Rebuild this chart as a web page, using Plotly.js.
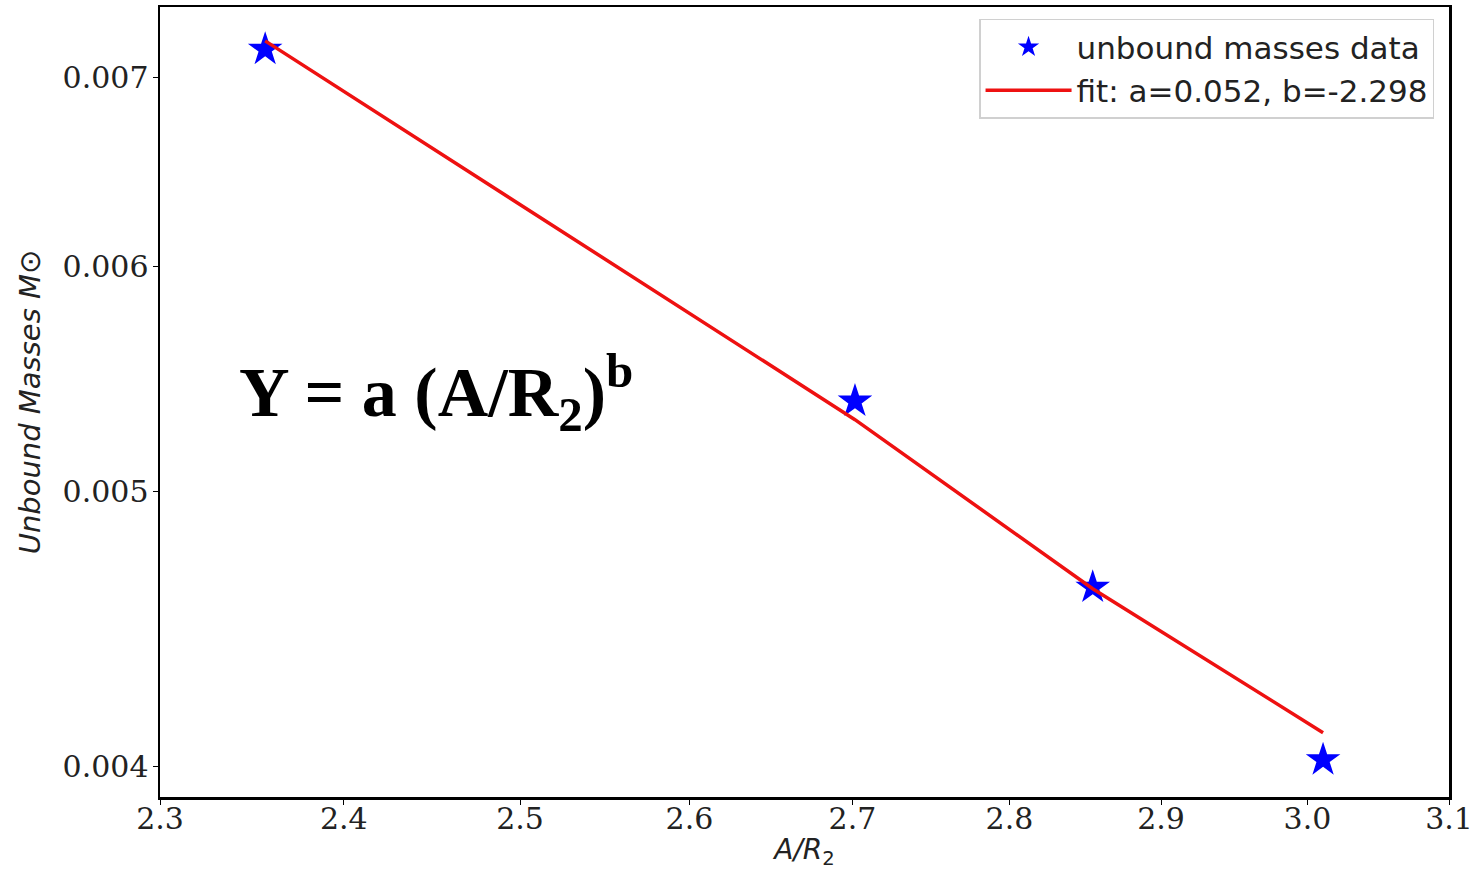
<!DOCTYPE html>
<html>
<head>
<meta charset="utf-8">
<script src="https://cdn.plot.ly/plotly-3.0.1.min.js"></script>
<style>html,body{margin:0;padding:0;background:#fff;}#chart{width:1475px;height:870px;}</style>
</head>
<body>
<div id="chart"></div>
<script>
// data
const ratioA_R2 = [2.3567, 2.7016, 2.8545, 3.0109];
const unboundMasses = [0.00716, 0.00538, 0.004625, 0.00402];
const fitX = [2.3567, 2.7016, 2.8545, 3.0109];
const fitY = [0.00721, 0.00530, 0.00462, 0.00411];
const xTickVals = [2.3, 2.4, 2.5, 2.6, 2.7, 2.8, 2.9, 3.0, 3.1];
const xTickText = ["2.3", "2.4", "2.5", "2.6", "2.7", "2.8", "2.9", "3.0", "3.1"];
const yTickVals = [0.004, 0.005, 0.006, 0.007];
const yTickText = ["0.004", "0.005", "0.006", "0.007"];

const traces = [
  {
    x: ratioA_R2, y: unboundMasses, type: 'scatter', mode: 'markers',
    name: 'unbound masses data',
    marker: {symbol: 'star', size: 26, color: '#0000ff', line: {width: 0}}
  },
  {
    x: fitX, y: fitY, type: 'scatter', mode: 'lines',
    name: 'fit: a=0.052, b=-2.298',
    line: {color: '#ee1111', width: 3.5}
  }
];

const axisCommon = {
  type: 'log', showgrid: false, zeroline: false,
  showline: true, linecolor: '#000', linewidth: 2.5, mirror: true,
  ticks: 'outside', ticklen: 5, tickwidth: 1, tickcolor: '#000',
  tickfont: {family: 'DejaVu Serif', size: 30, color: '#222'}
};

const layout = {
  width: 1475, height: 870,
  margin: {l: 160, r: 26, t: 7, b: 73},
  paper_bgcolor: '#fff', plot_bgcolor: '#fff',
  showlegend: true,
  xaxis: Object.assign({}, axisCommon, {
    range: [Math.log10(2.3), Math.log10(3.1)],
    tickmode: 'array', tickvals: xTickVals, ticktext: xTickText,
    ticklabelstandoff: -12,
    title: {text: '<i>A/R</i><sub>2</sub>', font: {family: 'DejaVu Sans', size: 28, color: '#222'}, standoff: 8}
  }),
  yaxis: Object.assign({}, axisCommon, {
    range: [Math.log10(0.0039007), Math.log10(0.007411)],
    tickmode: 'array', tickvals: yTickVals, ticktext: yTickText,
    ticklabelstandoff: -2,
    title: {text: 'Unbound Masses M⊙', font: {family: 'DejaVu Sans', size: 29, color: '#222', style: 'italic'}, standoff: 14}
  }),
  legend: {
    x: 0.9884, xanchor: 'right', y: 0.985, yanchor: 'top',
    bgcolor: '#fff', bordercolor: '#d0d0d0', borderwidth: 1.5,
    font: {family: 'DejaVu Sans', size: 31, color: '#222'},
    itemwidth: 86, tracegroupgap: 0
  },
  annotations: [
    {
      xref: 'paper', yref: 'paper', x: 0.0597, xanchor: 'left', y: 0.512, yanchor: 'middle',
      text: '<b>Y = a (A/R<sub>2</sub>)<sup>b</sup></b>',
      showarrow: false,
      font: {family: 'Liberation Serif', size: 70, color: '#000'}
    }
  ]
};

Plotly.newPlot('chart', traces, layout, {displayModeBar: false, staticPlot: true});
</script>
</body>
</html>
